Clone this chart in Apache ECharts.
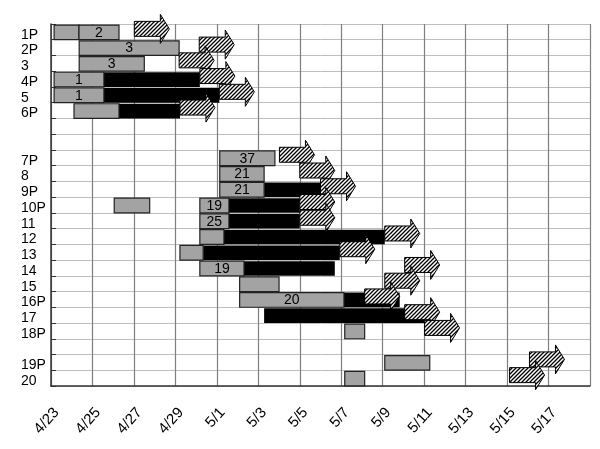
<!DOCTYPE html>
<html>
<head>
<meta charset="utf-8">
<script src="https://cdn.jsdelivr.net/npm/echarts@6/dist/echarts.min.js"></script>
<style>
html,body{margin:0;padding:0;background:#fff;}
#chart{width:600px;height:449px;}
</style>
</head>
<body>
<div id="chart"></div>
<script>
// Row categories (blank entries are the gaps in the reference)
const rows = ['1P','2P','3','4P','5','6P',' ','  ','7P','8','9P','10P','11','12','13','14','15','16P','17','18P','   ','19P','20'];
// x tick labels (value axis in days from 4/23, a tick every 2 days)
const xTickLabels = ['4/23','4/25','4/27','4/29','5/1','5/3','5/5','5/7','5/9','5/11','5/13','5/15','5/17'];
// grey bars: [row, start day, end day, label]
const grayBars = [
  ['1P', 0.15, 1.35, ''],
  ['1P', 1.35, 3.28, '2'],
  ['2P', 1.36, 6.18, '3'],
  ['3', 1.36, 4.5, '3'],
  ['4P', 0.15, 2.55, '1'],
  ['5', 0.15, 2.55, '1'],
  ['6P', 1.11, 3.28, ''],
  ['7P', 8.14, 10.8, '37'],
  ['8', 8.14, 10.28, '21'],
  ['9P', 8.14, 10.28, '21'],
  ['10P', 3.05, 4.76, ''],
  ['10P', 7.18, 8.58, '19'],
  ['11', 7.18, 8.58, '25'],
  ['12', 7.18, 8.34, ''],
  ['13', 6.22, 7.34, ''],
  ['14', 7.18, 9.31, '19'],
  ['15', 9.1, 11.0, ''],
  ['16P', 9.1, 14.13, '20'],
  ['18P', 14.17, 15.13, ''],
  ['19P', 16.1, 18.27, ''],
  ['20', 14.17, 15.13, '']
];
// black bars: [row, start day, end day]
const blackBars = [
  ['4P', 2.55, 7.18],
  ['5', 2.55, 8.12],
  ['6P', 3.28, 6.22],
  ['9P', 10.28, 13.0],
  ['10P', 8.58, 12.0],
  ['11', 8.58, 12.0],
  ['12', 8.34, 16.1],
  ['13', 7.34, 13.93],
  ['14', 9.31, 13.69],
  ['16P', 14.13, 16.82],
  ['17', 10.28, 18.02]
];
// hatched arrows: [row, start day]
const arrows = [
  ['1P', 4.02], ['2P', 7.15], ['3', 6.18], ['4P', 7.18], ['5', 8.12], ['6P', 6.22],
  ['7P', 11.02], ['8', 12.0], ['9P', 13.0], ['10P', 12.0], ['11', 12.0], ['12', 16.1],
  ['13', 13.93], ['14', 17.06], ['15', 16.1], ['16P', 15.13], ['17', 17.06], ['18P', 18.02],
  ['19P', 23.08], ['20', 22.12]
];

const FONT = '"Liberation Sans", Arial, sans-serif';

// hatch pattern
const hc = document.createElement('canvas');
hc.width = 4; hc.height = 4;
const hx = hc.getContext('2d');
hx.fillStyle = '#fff'; hx.fillRect(0,0,4,4);
hx.strokeStyle = '#000'; hx.lineWidth = 1.3;
hx.beginPath();
hx.moveTo(-1,5); hx.lineTo(5,-1);
hx.moveTo(-1,1); hx.lineTo(1,-1);
hx.moveTo(3,5); hx.lineTo(5,3);
hx.stroke();
const hatch = {type:'pattern', image: hc, repeat: 'repeat'};

const rowIdx = name => rows.indexOf(name);

function barRender(fill, stroke, withText) {
  return function (params, api) {
    const s = api.coord([api.value(0), api.value(2)]);
    const e = api.coord([api.value(1), api.value(2)]);
    const h = api.size([0, 1])[1];
    const bh = h * 0.93;
    const y = s[1] - bh / 2 + 0.5;
    const children = [{
      type: 'rect',
      shape: {x: s[0], y: y, width: e[0] - s[0], height: bh},
      style: {fill: fill, stroke: stroke, lineWidth: stroke ? 1.2 : 0}
    }];
    const lbl = withText ? grayBars[params.dataIndex][3] : '';
    if (lbl) {
      children.push({
        type: 'text',
        style: {
          x: (s[0] + e[0]) / 2, y: y + bh / 2 + 0.5,
          text: lbl, fill: '#000', align: 'center', verticalAlign: 'middle',
          font: '14px ' + FONT
        }
      });
    }
    return {type: 'group', children: children};
  };
}

function arrowRender(params, api) {
  const p = api.coord([api.value(0), api.value(1)]);
  const x0 = p[0], yc = p[1] - 3;
  const L = 35, hl = 9, bh = 7.5, hh = 14.5;
  return {
    type: 'polygon',
    shape: {points: [
      [x0, yc - bh], [x0 + L - hl, yc - bh], [x0 + L - hl, yc - hh], [x0 + L, yc],
      [x0 + L - hl, yc + hh], [x0 + L - hl, yc + bh], [x0, yc + bh]
    ]},
    style: {fill: hatch, stroke: '#000', lineWidth: 1}
  };
}

const chart = echarts.init(document.getElementById('chart'), null, {renderer: 'canvas'});
chart.setOption({
  animation: false,
  backgroundColor: '#fff',
  grid: {left: 51, right: 10, top: 24, bottom: 63},
  xAxis: {
    type: 'value', min: 0, max: 26, interval: 2,
    axisLine: {show: true, lineStyle: {color: '#333', width: 1.5}},
    axisTick: {show: false},
    splitLine: {show: true, lineStyle: {color: '#7f7f7f', width: 1.2}},
    axisLabel: {
      rotate: 48, margin: 19, fontSize: 15, color: '#000', fontFamily: FONT,
      align: 'right', verticalAlign: 'top',
      formatter: v => { const i = Math.round(v / 2); return (i < xTickLabels.length) ? xTickLabels[i] : ''; }
    }
  },
  yAxis: {
    type: 'category', data: rows, inverse: true, boundaryGap: true,
    axisLine: {show: true, lineStyle: {color: '#333', width: 1.5}},
    axisTick: {show: true, inside: true, length: 5, lineStyle: {color: '#333'}},
    splitLine: {show: true, lineStyle: {color: '#bdbdbd', width: 1}},
    axisLabel: {interval: 0, align: 'left', verticalAlign: 'top', lineHeight: 6, margin: 30, fontSize: 14, color: '#000', fontFamily: FONT}
  },
  series: [
    {
      type: 'custom', renderItem: barRender('#000', null, false),
      encode: {x: [0, 1], y: 2},
      data: blackBars.map(b => [b[1], b[2], rowIdx(b[0])]), z: 2
    },
    {
      type: 'custom', renderItem: barRender('#a3a3a3', '#222', true),
      encode: {x: [0, 1], y: 2},
      data: grayBars.map(b => [b[1], b[2], rowIdx(b[0])]), z: 3
    },
    {
      type: 'custom', renderItem: arrowRender,
      encode: {x: 0, y: 1},
      data: arrows.map(a => [a[1], rowIdx(a[0])]), z: 4
    }
  ]
});
</script>
</body>
</html>
